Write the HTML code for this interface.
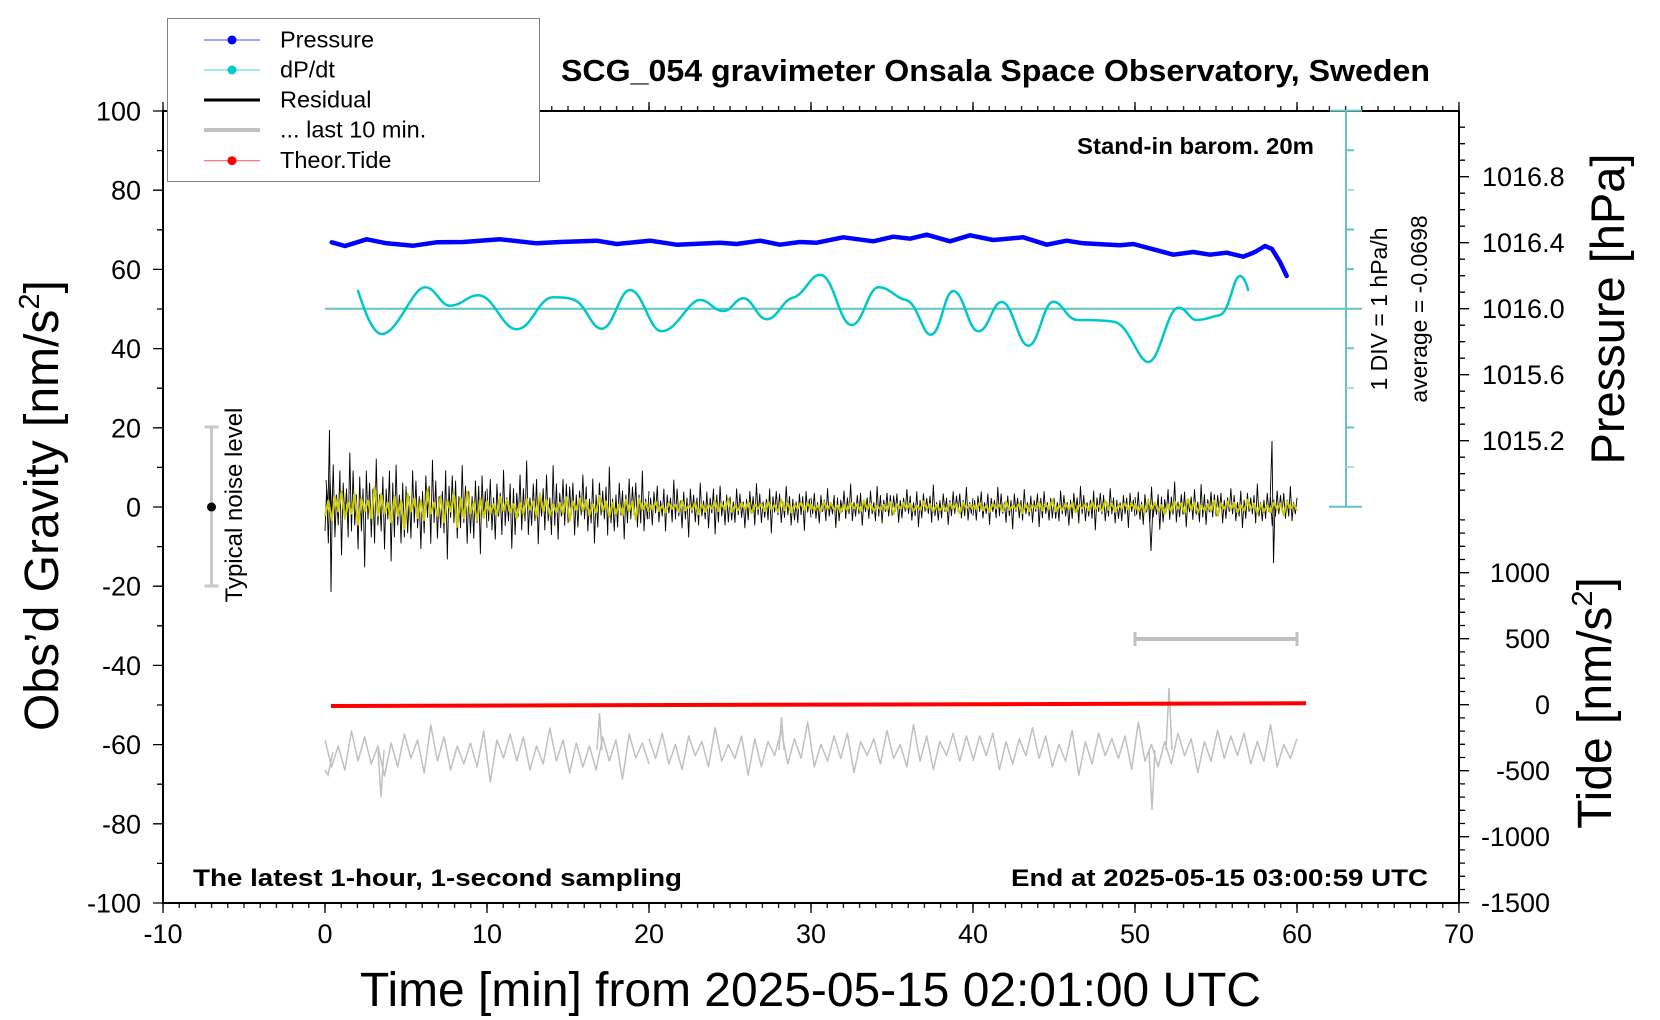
<!DOCTYPE html>
<html><head><meta charset="utf-8"><style>
html,body{margin:0;padding:0;background:#fff}
svg{display:block}
</style></head><body>
<svg width="1660" height="1020" viewBox="0 0 1660 1020" xmlns="http://www.w3.org/2000/svg" font-family="'Liberation Sans', Arial, sans-serif">
<defs>
<polyline id="nA" fill="none" vector-effect="non-scaling-stroke" stroke-linejoin="round" points="0,4 1,-3 2,6 3,-5 4,2 5,-7 6,5 7,-2 8,3 9,-6 10,8 11,-4 12,2 13,-3 14,5 15,-9 16,4 17,-6 18,3 19,-2 20,7 21,-5 22,4 23,-3 24,10 25,-6 26,2 27,-4 28,5 29,-3 30,6 31,-8 32,3 33,-2 34,4 35,-5 36,7 37,-3 38,2 39,-6 40,9 41,-4 42,5 43,-7 44,3 45,-2 46,6 47,-4 48,5 49,-3"/>
<polyline id="nB" fill="none" vector-effect="non-scaling-stroke" stroke-linejoin="round" points="0,-4 1,5 2,-2 3,6 4,-7 5,3 6,-5 7,4 8,-2 9,8 10,-3 11,5 12,-6 13,2 14,-4 15,7 16,-9 17,3 18,-5 19,6 20,-2 21,4 22,-3 23,5 24,-7 25,10 26,-4 27,2 28,-6 29,3 30,-5 31,6 32,-2 33,4 34,-8 35,3 36,-4 37,7 38,-3 39,5 40,-2 41,6 42,-5 43,3 44,-4 45,9 46,-6 47,2 48,-3 49,4"/>
<pattern id="tk" x="154.9" y="0" width="16.2" height="20" patternUnits="userSpaceOnUse"><rect x="7.5" y="0" width="1.2" height="20" fill="#000"/></pattern>
</defs>
<rect width="1660" height="1020" fill="#fff"/>

<!-- frame -->
<rect x="163" y="111" width="1296" height="792" fill="none" stroke="#000" stroke-width="2"/>
<rect x="163" y="903" width="1296" height="5" fill="url(#tk)"/>
<rect x="163" y="106" width="1296" height="5" fill="url(#tk)"/>
<g stroke="#000" stroke-width="1.3" fill="none">
<path d="M163,903v10M325,903v10M487,903v10M649,903v10M811,903v10M973,903v10M1135,903v10M1297,903v10M1459,903v10"/>
<path d="M163,111v-9M325,111v-9M487,111v-9M649,111v-9M811,111v-9M973,111v-9M1135,111v-9M1297,111v-9M1459,111v-9"/>
<path d="M157,150.6h6M157,229.8h6M157,309h6M157,388.2h6M157,467.4h6M157,546.6h6M157,625.8h6M157,705h6M157,784.2h6M157,863.4h6"/>
<path d="M153,111h10M153,190.2h10M153,269.4h10M153,348.6h10M153,427.8h10M153,507h10M153,586.2h10M153,665.4h10M153,744.6h10M153,823.8h10M153,903h10"/>
<path d="M1459,127.2h6M1459,143.7h6M1459,160.2h6M1459,193.2h6M1459,209.7h6M1459,226.2h6M1459,259.2h6M1459,275.7h6M1459,292.2h6M1459,325.2h6M1459,341.7h6M1459,358.2h6M1459,391.2h6M1459,407.7h6M1459,424.2h6M1459,457.2h6M1459,473.7h6M1459,490.2h6"/>
<path d="M1459,176.7h10M1459,242.7h10M1459,308.7h10M1459,374.7h10M1459,440.7h10"/>
<path d="M1459,519.9h6M1459,533.1h6M1459,546.3h6M1459,559.5h6M1459,585.9h6M1459,599.1h6M1459,612.3h6M1459,625.5h6M1459,651.9h6M1459,665.1h6M1459,678.3h6M1459,691.5h6M1459,717.9h6M1459,731.1h6M1459,744.3h6M1459,757.5h6M1459,783.9h6M1459,797.1h6M1459,810.3h6M1459,823.5h6M1459,849.9h6M1459,863.1h6M1459,876.3h6M1459,889.5h6"/>
<path d="M1459,572.7h10M1459,638.7h10M1459,704.7h10M1459,770.7h10M1459,836.7h10M1459,902.7h10"/>
</g>

<!-- tick labels -->
<g font-size="27" fill="#000">
<g text-anchor="end">
<text x="141" y="120.5">100</text>
<text x="141" y="199.7">80</text>
<text x="141" y="278.9">60</text>
<text x="141" y="358.1">40</text>
<text x="141" y="437.3">20</text>
<text x="141" y="516.5">0</text>
<text x="141" y="595.7">-20</text>
<text x="141" y="674.9">-40</text>
<text x="141" y="754.1">-60</text>
<text x="141" y="833.3">-80</text>
<text x="141" y="912.5">-100</text>
<text x="1550" y="582.2">1000</text>
<text x="1550" y="648.2">500</text>
<text x="1550" y="714.2">0</text>
<text x="1550" y="780.2">-500</text>
<text x="1550" y="846.2">-1000</text>
<text x="1550" y="912.2">-1500</text>
</g>
<g text-anchor="middle">
<text x="163" y="943">-10</text>
<text x="325" y="943">0</text>
<text x="487" y="943">10</text>
<text x="649" y="943">20</text>
<text x="811" y="943">30</text>
<text x="973" y="943">40</text>
<text x="1135" y="943">50</text>
<text x="1297" y="943">60</text>
<text x="1459" y="943">70</text>
</g>
<text x="1482" y="186.2">1016.8</text>
<text x="1482" y="252.2">1016.4</text>
<text x="1482" y="318.2">1016.0</text>
<text x="1482" y="384.2">1015.6</text>
<text x="1482" y="450.2">1015.2</text>
</g>

<!-- axis titles -->
<text x="360" y="1006" font-size="48" textLength="901" lengthAdjust="spacingAndGlyphs">Time [min] from 2025-05-15 02:01:00 UTC</text>
<text transform="translate(58,505.6) rotate(-90)" text-anchor="middle" font-size="48">Obs’d Gravity [nm/s<tspan font-size="29" dy="-19">2</tspan><tspan dy="19">]</tspan></text>
<text transform="translate(1624,309) rotate(-90)" text-anchor="middle" font-size="47">Pressure [hPa]</text>
<text transform="translate(1611,703) rotate(-90)" text-anchor="middle" font-size="48">Tide [nm/s<tspan font-size="29" dy="-19">2</tspan><tspan dy="19">]</tspan></text>
<text transform="translate(1387,309) rotate(-90)" text-anchor="middle" font-size="23">1 DIV = 1 hPa/h</text>
<text transform="translate(1427,309) rotate(-90)" text-anchor="middle" font-size="23">average = -0.0698</text>

<!-- titles -->
<text x="561" y="81" font-size="31" font-weight="bold" textLength="869" lengthAdjust="spacingAndGlyphs">SCG_054 gravimeter Onsala Space Observatory, Sweden</text>
<text x="1077" y="154" font-size="23.5" font-weight="bold" textLength="237" lengthAdjust="spacingAndGlyphs">Stand-in barom. 20m</text>
<text x="193" y="886" font-size="24" font-weight="bold" textLength="489" lengthAdjust="spacingAndGlyphs">The latest 1-hour, 1-second sampling</text>
<text x="1011" y="886" font-size="24" font-weight="bold" textLength="417" lengthAdjust="spacingAndGlyphs">End at 2025-05-15 03:00:59 UTC</text>

<!-- dP/dt scale -->
<g stroke="#66c2c2" stroke-width="2" fill="none">
<path d="M1346,110.7V506.7M1330,110.7H1362M1329,506.7H1362M325,308.7H1362"/>
<path d="M1346,150.3h8M1346,229.5h8M1346,269.1h8M1346,348.3h8M1346,427.5h8"/>
<path d="M1346,189.9h8M1346,387.9h8M1346,467.1h8" stroke="#a8dcdc"/>
</g>

<!-- typical noise level -->
<g stroke="#c8c8c8" stroke-width="3" fill="none">
<path d="M211.5,427V586M204.5,427H218.5M204.5,586H218.5"/>
</g>
<circle cx="211.5" cy="507" r="4.5" fill="#000"/>
<text transform="translate(242,505) rotate(-90)" text-anchor="middle" font-size="24">Typical noise level</text>

<!-- pressure -->
<polyline fill="none" stroke="#0000ff" stroke-width="4.5" stroke-linejoin="round" stroke-linecap="round" points="331.7,242.3 345,246 366.7,239.3 386.7,243.3 413.3,245.7 436.7,242.3 463.3,242 500,239.3 536.7,243.3 560,242 596.7,240.7 616.7,244 650,240.7 676.7,244.7 720,242.7 736.7,244 760,240.7 780,244.7 800,242 816.7,242.7 843.3,237.3 873.3,241.3 893.3,236.7 910,238.7 926.7,234.7 950,241.3 970,235.3 993.3,240 1023.3,237.3 1046.7,244.7 1066.7,240.7 1083.3,243.3 1120,245.3 1133.3,244 1153.3,249.3 1173.3,254.7 1193.3,252 1210,254.7 1226.7,252.7 1243.3,256.7 1255,252 1265,246 1272,249 1280,262 1286.7,276"/>

<!-- dP/dt -->
<path fill="none" stroke="#00c8c8" stroke-width="2.5" d="M357.7,290 C363,306 372,334 381.7,334 C398,334 412,287.3 425,287.3 C436,287.3 440,305.7 450,305.7 C462,305.7 467,295.3 478.3,295.3 C494,295.3 502,329.3 516.7,329.3 C532,329.3 538,297.3 553.3,297.3 C566,297.3 572,298 578,302 C588,310 592,328.7 601.7,328.7 C614,328.7 619,290 630,290 C643,290 649,331.3 661.7,331.3 C677,331.3 688,300 700,300 C710,300 713,311 723.3,311 C732,311 735,298.3 743.3,298.3 C753,298.3 757,319.3 766.7,319.3 C777,319.3 783,300 792,298 C805,295 810,274.7 820,274.7 C834,274.7 839,325 851.7,325 C863,325 868,287.3 878.3,287.3 C890,287.3 895,298 906,300 C918,303 922,334.7 930.7,334.7 C941,334.7 944,291 953.3,291 C964,291 968,331.3 978.3,331.3 C989,331.3 992,302 1001.7,302 C1013,302 1018,345.7 1028.3,345.7 C1039,345.7 1043,301.7 1053.3,301.7 C1063,301.7 1066,320 1078,320 C1090,320 1105,320 1115,322 C1130,326 1138,362 1148.3,362 C1160,362 1167,307.7 1178.3,307.7 C1187,307.7 1189,320 1196.7,320 C1205,320 1210,317 1220,315 C1230,312 1233,276 1240,276 C1244,276 1247,285 1248.3,291"/>

<!-- residual (black) -->
<g stroke="#000" stroke-width="0.9" fill="none">
<use href="#nA" transform="translate(325,507) scale(1.653,6)"/>
<use href="#nB" transform="translate(406,507) scale(1.653,5.2)"/>
<use href="#nA" transform="translate(487,507) scale(1.653,-4.6)"/>
<use href="#nB" transform="translate(568,507) scale(1.653,-4)"/>
<use href="#nA" transform="translate(649,507) scale(1.653,3)"/>
<use href="#nB" transform="translate(730,507) scale(1.653,2.6)"/>
<use href="#nA" transform="translate(811,507) scale(1.653,-2.3)"/>
<use href="#nB" transform="translate(892,507) scale(1.653,-2.2)"/>
<use href="#nA" transform="translate(973,507) scale(1.653,2.2)"/>
<use href="#nB" transform="translate(1054,507) scale(1.653,2.3)"/>
<use href="#nA" transform="translate(1135,507) scale(1.653,-2.5)"/>
<use href="#nB" transform="translate(1216,507) scale(1.653,-2.3)"/>
<path d="M326,480 L328,507 L329.5,430 L331,592 L332.5,490 M1149,505 L1151,551 L1153,505 M1270,505 L1272,441 L1273.5,563 L1275,505"/>
</g>
<!-- smoothed (yellow) -->
<g stroke="#cccc00" stroke-width="2" fill="none">
<use href="#nA" transform="translate(325,507) scale(3.306,2.2)"/>
<use href="#nB" transform="translate(487,507) scale(3.306,1.4)"/>
<use href="#nA" transform="translate(649,507) scale(3.306,-0.8)"/>
<use href="#nB" transform="translate(811,507) scale(3.306,0.7)"/>
<use href="#nA" transform="translate(973,507) scale(3.306,-0.7)"/>
<use href="#nB" transform="translate(1135,507) scale(3.306,0.9)"/>
</g>

<!-- gray line -->
<g stroke="#c0c0c0" stroke-width="1.5" fill="none">
<use href="#nB" transform="translate(325,752) scale(6.612,3)"/>
<use href="#nA" transform="translate(649,750) scale(6.612,-2.8)"/>
<use href="#nB" transform="translate(973,750) scale(6.612,-2.8)"/>
<path d="M325,770 L328,775 L333,752 M378,750 L381,797 L384,750 M597,750 L599.5,713 L602,750 M779,750 L781.5,717 L784,750 M1149,750 L1152,810 L1155,750 M1166,750 L1169,688 L1172,750"/>
</g>

<!-- tide -->
<path d="M331,706 L1306,703.3" stroke="#ff0000" stroke-width="4" fill="none"/>

<!-- last 10 min bar -->
<g stroke="#c0c0c0" fill="none">
<path d="M1135,639H1297" stroke-width="4"/>
<path d="M1135,632V646M1297,632V646" stroke-width="3"/>
</g>

<!-- legend -->
<rect x="167.5" y="18.5" width="372" height="163" fill="#fff" stroke="#808080" stroke-width="1"/>
<g fill="none">
<path d="M204,40H260" stroke="#4a4aff" stroke-width="1"/>
<path d="M204,70H260" stroke="#4ad0d0" stroke-width="1"/>
<path d="M204,100H260" stroke="#000" stroke-width="3"/>
<path d="M204,130H260" stroke="#c0c0c0" stroke-width="4"/>
<path d="M204,160.7H260" stroke="#ff5050" stroke-width="1"/>
</g>
<circle cx="232" cy="40" r="4.5" fill="#0000ff"/>
<circle cx="232" cy="70" r="4.5" fill="#00cccc"/>
<circle cx="232" cy="160.7" r="4.5" fill="#ff0000"/>
<g font-size="23.5" fill="#000">
<text x="280" y="47.5">Pressure</text>
<text x="280" y="77.5">dP/dt</text>
<text x="280" y="107.5">Residual</text>
<text x="280" y="137.5">... last 10 min.</text>
<text x="280" y="168">Theor.Tide</text>
</g>
</svg>
</body></html>
